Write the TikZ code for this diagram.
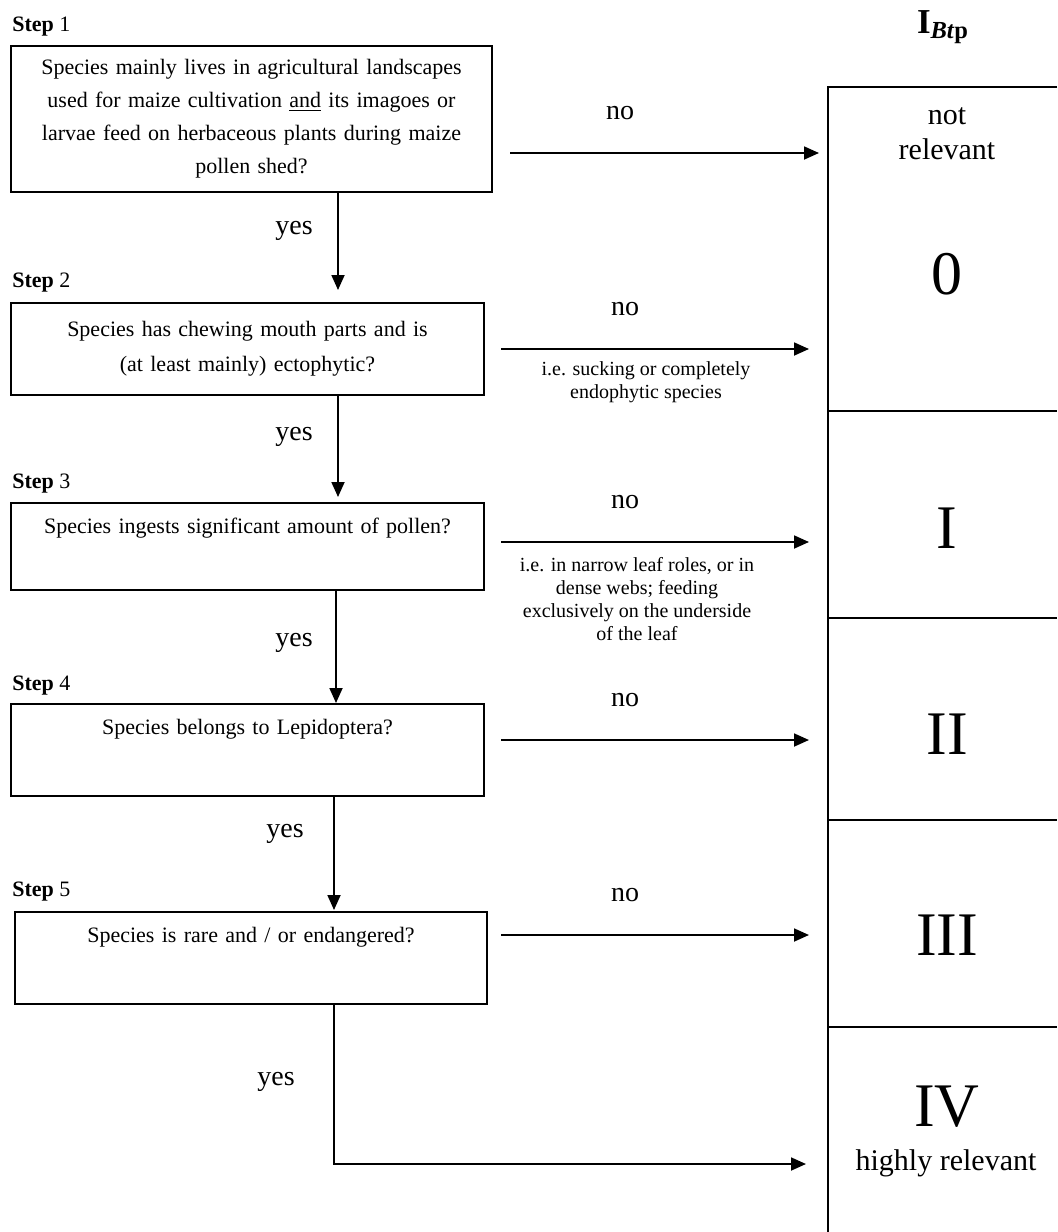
\documentclass[tikz,border=0pt]{standalone}
\usepackage{fontspec}
\setmainfont{Liberation Serif}
\usetikzlibrary{arrows.meta}

\begin{document}
\begin{tikzpicture}[x=0.5pt,y=-0.5pt]
\tikzstyle{every node}+=[inner sep=0pt]
\tikzstyle{box}=[draw=black, line width=0.9pt, align=center]
\tikzstyle{arr}=[black, line width=0.9pt, -{Triangle[length=7.5pt,width=6.5pt]}]
\tikzstyle{colline}=[black, line width=0.9pt]
\tikzstyle{yesno}=[font=\fontsize{14}{16}\selectfont]
\tikzstyle{steplbl}=[anchor=west, font=\fontsize{11}{13}\selectfont]
\tikzstyle{note}=[align=center, font=\fontsize{10}{11.5}\selectfont]
\tikzstyle{grade}=[font=\fontsize{31}{35}\selectfont]
\tikzstyle{rel}=[align=center, font=\fontsize{15}{17.5}\selectfont]
\useasboundingbox (0,0) rectangle (1057,1232);
% steps
\node[steplbl] (st1) at (12,27) {\textbf{Step} 1};
\node[box, text width=240.5pt, minimum height=73pt, font=\fontsize{11}{16.5}\selectfont] (s1) at (251.5,119) {Species mainly lives in agricultural landscapes\\used for maize cultivation \underline{and} its imagoes or\\larvae feed on herbaceous plants during maize\\pollen shed?};
\node[steplbl] (st2) at (12,283) {\textbf{Step} 2};
\node[box, text width=236.5pt, minimum height=46pt, font=\fontsize{11}{17.5}\selectfont] (s2) at (247.5,349) {Species has chewing mouth parts and is\\(at least mainly) ectophytic?};
\node[steplbl] (st3) at (12,484) {\textbf{Step} 3};
\node[box, text width=236.5pt, text height=15pt, text depth=28.5pt, font=\fontsize{11}{13}\selectfont] (s3) at (247.5,546.5) {Species ingests significant amount of pollen?\hspace*{10pt}};
\node[steplbl] (st4) at (12,686) {\textbf{Step} 4};
\node[box, text width=236.5pt, text height=15pt, text depth=31pt, font=\fontsize{11}{13}\selectfont] (s4) at (247.5,750) {Species belongs to Lepidoptera?};
\node[steplbl] (st5) at (12,892) {\textbf{Step} 5};
\node[box, text width=236pt, text height=15pt, text depth=31pt, font=\fontsize{11}{13}\selectfont] (s5) at (251,958) {Species is rare and / or endangered?};
% yes
\coordinate (y1) at (338,290);
\draw[arr] (s1.south -| y1) -- (y1);
\node[yesno] (yes1) at (294,231) {yes};
\coordinate (y2) at (338,497);
\draw[arr] (s2.south -| y2) -- (y2);
\node[yesno] (yes2) at (294,437) {yes};
\coordinate (y3) at (336,703);
\draw[arr] (s3.south -| y3) -- (y3);
\node[yesno] (yes3) at (294,643) {yes};
\coordinate (y4) at (334,910);
\draw[arr] (s4.south -| y4) -- (y4);
\node[yesno] (yes4) at (285,834) {yes};
\coordinate (c5) at (334,1164);
\coordinate (t6) at (806,1164);
\draw[arr] (s5.south -| c5) -- (c5) -- (t6);
\node[yesno] (yes5) at (276,1082) {yes};
% no
\coordinate (n1) at (510,153);
\coordinate (m1) at (819,153);
\draw[arr] (n1) -- (m1);
\node[yesno] (no1) at (620,113) {no};
\coordinate (n2) at (501,349);
\coordinate (m2) at (809,349);
\draw[arr] (n2) -- (m2);
\node[yesno] (no2) at (625,309) {no};
\node[note] (why2) at (646,382) {i.e. sucking or completely\\endophytic species};
\coordinate (n3) at (501,542);
\coordinate (m3) at (809,542);
\draw[arr] (n3) -- (m3);
\node[yesno] (no3) at (625,502) {no};
\node[note] (why3) at (637,599) {i.e. in narrow leaf roles, or in\\dense webs; feeding\\exclusively on the underside\\of the leaf};
\coordinate (n4) at (501,740);
\coordinate (m4) at (809,740);
\draw[arr] (n4) -- (m4);
\node[yesno] (no4) at (625,700) {no};
\coordinate (n5) at (501,935);
\coordinate (m5) at (809,935);
\draw[arr] (n5) -- (m5);
\node[yesno] (no5) at (625,895) {no};
% index column
\node (hdr) at (943,27) {\fontsize{17.5}{20}\selectfont\textbf{I}\textsubscript{\textbf{\textit{Bt}p}}};
\draw[colline] (1057,87) -- (828,87) -- (828,1232);
\draw[colline] (828,411) -- (1057,411);
\draw[colline] (828,618) -- (1057,618);
\draw[colline] (828,820) -- (1057,820);
\draw[colline] (828,1027) -- (1057,1027);
\node[rel] (notrel) at (947,134) {not\\relevant};
\node[grade] (g0) at (947,274) {0};
\node[grade] (g1) at (947,528) {I};
\node[grade] (g2) at (947,734) {II};
\node[grade] (g3) at (947,935) {III};
\node[grade] (g4) at (947,1107) {IV};
\node[rel] (hirel) at (946,1163) {highly relevant};
\end{tikzpicture}
\end{document}
